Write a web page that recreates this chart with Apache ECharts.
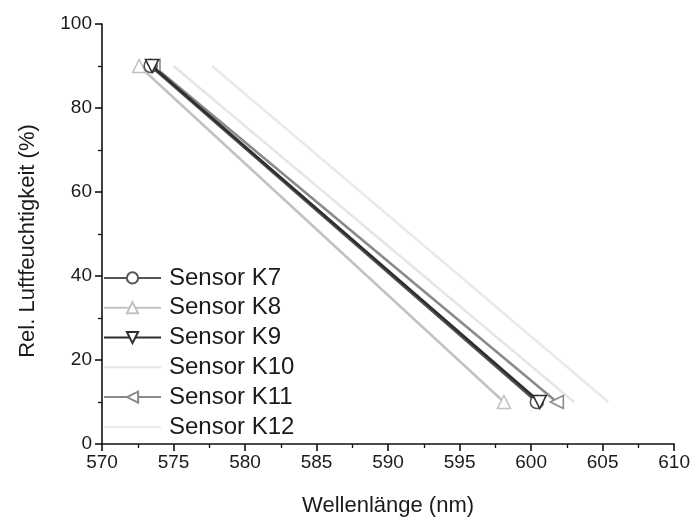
<!DOCTYPE html>
<html>
<head>
<meta charset="utf-8">
<script src="https://cdn.jsdelivr.net/npm/echarts@6/dist/echarts.min.js"></script>
<style>html,body{margin:0;padding:0;background:#fff}#c{width:693px;height:522px}</style>
</head>
<body>
<div id="c"></div>
<script>
// Data (wavelength nm, relative humidity %)
const sensorNames = ['Sensor K7','Sensor K8','Sensor K9','Sensor K10','Sensor K11','Sensor K12'];
const k7  = [[573.4, 90], [600.4, 10]];
const k8  = [[572.6, 90], [598.1, 10]];
const k9  = [[573.5, 90], [600.6, 10]];
const k10 = [[575.0, 90], [603.0, 10]];
const k11 = [[573.6, 90], [601.8, 10]];
const k12 = [[577.7, 90], [605.4, 10]];
const xTicks = [570, 575, 580, 585, 590, 595, 600, 605, 610];
const yTicks = [0, 20, 40, 60, 80, 100];

const seriesData = [k7, k8, k9, k10, k11, k12];
const colors = ['#555555', '#c2c2c2', '#2e2e2e', '#e6e6e6', '#8a8a8a', '#eaeaea'];
const symbols = ['circle', 'triangle', 'triangle', 'circle', 'triangle', 'circle'];
const rotates = [0, 0, 180, 0, 90, 0];
const showMarker = [true, true, true, false, true, false];

const font = '"Liberation Sans", Arial, sans-serif';
const chart = echarts.init(document.getElementById('c'), null, {renderer: 'canvas'});
chart.setOption({
  animation: false,
  backgroundColor: '#fff',
  grid: {left: 102, right: 18, top: 24, bottom: 77},
  legend: {
    orient: 'vertical', left: 103, top: 263, padding: 0,
    itemWidth: 57, itemHeight: 14, itemGap: 0,
    textStyle: {fontFamily: font, fontSize: 24, lineHeight: 29.8, color: '#1a1a1a', padding: [0, 0, 0, 3]},
    data: sensorNames
  },
  xAxis: {
    type: 'value', min: 570, max: 610, interval: 5,
    name: 'Wellenlänge (nm)', nameLocation: 'middle', nameGap: 51,
    nameTextStyle: {fontFamily: font, fontSize: 22, color: '#1a1a1a'},
    axisLine: {show: true, onZero: false, lineStyle: {color: '#111', width: 1.6}},
    axisTick: {show: true, inside: false, length: 7, lineStyle: {color: '#111', width: 1.6}},
    minorTick: {show: true, splitNumber: 2, length: 4, lineStyle: {color: '#111', width: 1.3}},
    splitLine: {show: false},
    axisLabel: {fontFamily: font, fontSize: 19, color: '#1a1a1a', margin: 9,
      formatter: v => xTicks.includes(v) ? String(v) : ''}
  },
  yAxis: {
    type: 'value', min: 0, max: 100, interval: 20,
    name: 'Rel. Luftfeuchtigkeit (%)', nameLocation: 'middle', nameGap: 63,
    nameTextStyle: {fontFamily: font, fontSize: 22, color: '#1a1a1a', padding: [0, 14, 0, 0]},
    axisLine: {show: true, onZero: false, lineStyle: {color: '#111', width: 1.6}},
    axisTick: {show: true, inside: false, length: 7, lineStyle: {color: '#111', width: 1.6}},
    minorTick: {show: true, splitNumber: 2, length: 4, lineStyle: {color: '#111', width: 1.3}},
    splitLine: {show: false},
    axisLabel: {fontFamily: font, fontSize: 19, color: '#1a1a1a', margin: 10,
      formatter: v => yTicks.includes(v) ? String(v) : ''}
  },
  series: sensorNames.map((n, i) => ({
    name: n, type: 'line', data: seriesData[i],
    symbol: symbols[i], symbolSize: showMarker[i] ? 13 : 0, symbolRotate: rotates[i],
    showSymbol: true,
    lineStyle: {color: colors[i], width: 2.6},
    itemStyle: showMarker[i]
      ? {color: '#fff', borderColor: colors[i], borderWidth: 1.6}
      : {color: 'rgba(0,0,0,0)', borderColor: 'rgba(0,0,0,0)', borderWidth: 0},
    z: [3, 1, 4, 0, 2, 0][i]
  }))
});
</script>
</body>
</html>
